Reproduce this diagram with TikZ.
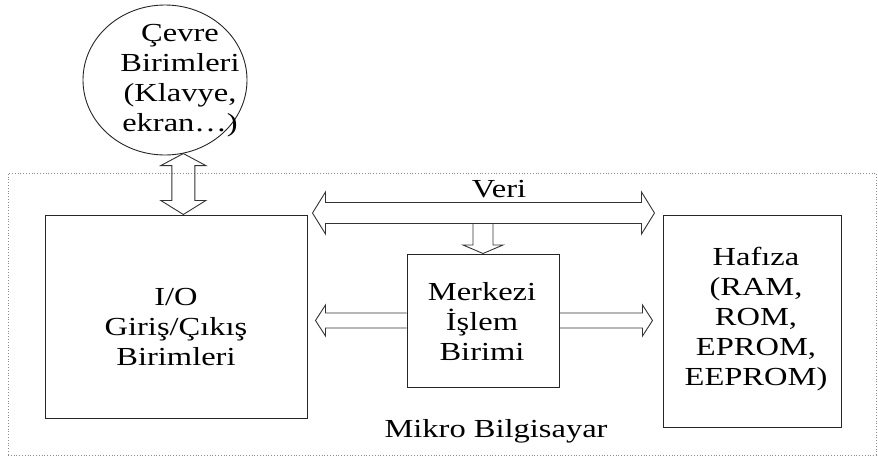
\documentclass[tikz,border=0pt]{standalone}
\usepackage{fontspec}
\setmainfont{Liberation Serif}[FakeStretch=1.25]
\usetikzlibrary{calc,shapes.geometric}
\begin{document}
\begin{tikzpicture}[x=1pt,y=-1pt,
  lbl/.style={font=\fontsize{26}{30}\selectfont, align=center, inner sep=0pt},
  unitbox/.style={draw=black!85, line width=1pt, rectangle, inner sep=0pt},
  blk/.style={draw=black!80, line width=0.9pt, line join=miter},
  frame/.style={draw=black!45, line width=0.8pt, dotted, rectangle, inner sep=0pt}]
\useasboundingbox (0,0) rectangle (878,458);

% outer frame of the micro computer
\node[frame, minimum width=868, minimum height=282] (mikro) at (442,314) {};
\node[lbl, anchor=base] (mikrolbl) at (496,437) {Mikro Bilgisayar};

% peripheral units
\node[draw=black!85, line width=0.9pt, ellipse, minimum width=164, minimum height=150, inner sep=0pt] (cevre) at (165,80) {};
\node[lbl] (cevrelbl) at (180,81) {Çevre\\Birimleri\\(Klavye,\\ekran…)};

% main blocks
\node[unitbox, minimum width=262, minimum height=203] (io) at (176,316.5) {};
\node[lbl] (iolbl) at (176,327) {I/O\\Giriş/Çıkış\\Birimleri};

\node[unitbox, minimum width=152, minimum height=133] (cpu) at (483,320.5) {};
\node[lbl] (cpulbl) at (482,322) {Merkezi\\İşlem\\Birimi};

\node[unitbox, minimum width=178, minimum height=212] (mem) at (752,321) {};
\node[lbl] (memlbl) at (756,319) {Hafıza\\(RAM,\\ROM,\\EPROM,\\EEPROM)};

% tips and tails of the block arrows
\coordinate (vt) at (cevre.-76.6);
\coordinate (vb) at (vt |- io.north);
\coordinate (dl) at ($(io.north east)+(5,-1.5)$);
\coordinate (dr) at ($(mem.north west |- dl)+(-8,0)$);
\coordinate (ds) at ($(cpu.north)+(0,-30)$);
\coordinate (lp) at ($(io.east |- cpu.west)+(8,0)$);
\coordinate (rp) at ($(mem.west |- cpu.east)+(-10,0)$);

\node[lbl, anchor=base] (veri) at (499,197) {Veri};

% peripheral <-> I/O
\draw[blk] (vt) -- ($(vt)+(22.5,12)$) -- ($(vt)+(11.5,12)$) -- ($(vb)+(11.5,-14)$)
  -- ($(vb)+(22.5,-14)$) -- (vb) -- ($(vb)+(-22.5,-14)$) -- ($(vb)+(-11.5,-14)$)
  -- ($(vt)+(-11.5,12)$) -- ($(vt)+(-22.5,12)$) -- cycle;

% data bus
\draw[blk] (dl) -- ($(dl)+(13,-21)$) -- ($(dl)+(13,-10.5)$) -- ($(dr)+(-13,-10.5)$)
  -- ($(dr)+(-13,-21)$) -- (dr) -- ($(dr)+(-13,21)$) -- ($(dr)+(-13,10.5)$)
  -- ($(dl)+(13,10.5)$) -- ($(dl)+(13,21)$) -- cycle;

% data bus -> CPU
\draw[blk] ($(ds)+(-10,0)$) -- ($(cpu.north)+(-10,-8.5)$) -- ($(cpu.north)+(-20,-8.5)$)
  -- (cpu.north) -- ($(cpu.north)+(20,-8.5)$) -- ($(cpu.north)+(10,-8.5)$) -- ($(ds)+(10,0)$);

% CPU -> I/O
\draw[blk] ($(cpu.west)+(0,-7.5)$) -- ($(lp)+(10,-7.5)$) -- ($(lp)+(10,-15.5)$)
  -- (lp) -- ($(lp)+(10,15.5)$) -- ($(lp)+(10,7.5)$) -- ($(cpu.west)+(0,7.5)$);

% CPU -> memory
\draw[blk] ($(cpu.east)+(0,-7.5)$) -- ($(rp)+(-10,-7.5)$) -- ($(rp)+(-10,-15.5)$)
  -- (rp) -- ($(rp)+(-10,15.5)$) -- ($(rp)+(-10,7.5)$) -- ($(cpu.east)+(0,7.5)$);
\end{tikzpicture}
\end{document}
